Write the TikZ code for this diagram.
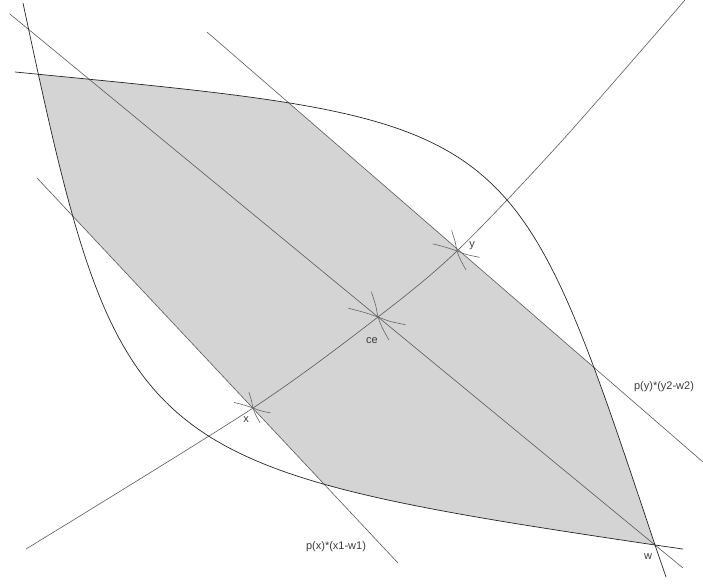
\documentclass[tikz,border=0pt]{standalone}
\usepackage{fontspec}
\setmainfont{Liberation Sans}
\usetikzlibrary{calc}
\definecolor{ink}{HTML}{3C3C3C}
\definecolor{setgray}{HTML}{D4D4D4}
\tikzset{
  curveA/.style  ={insert path={(15,72) .. controls (518,121) and (511,114) .. (w) -- (666,577)}},
  curveB/.style  ={insert path={(23,3) .. controls (119,453) and (130,467) .. (w) -- (683,549)}},
  indiff/.style  ={draw=black!85,line width=0.7pt},
  budget/.style  ={draw=black!65,line width=0.6pt},
  tickmark/.style={draw=black!60,line width=0.6pt},
  lbl/.style     ={inner sep=0pt,text=ink,font=\fontsize{11}{13}\selectfont}
}
\begin{document}
\begin{tikzpicture}[x=1pt,y=-1pt]
  \useasboundingbox (0,0) rectangle (703,585);
  \coordinate (w) at (655,545);
  \coordinate (ce) at (378,317);
  \coordinate (xpt) at (253,408);
  \coordinate (ypt) at (457,251);
  \coordinate (ytop) at (207,32);
  \coordinate (yend) at (703,462);
  \coordinate (xtop) at (37,178);
  \coordinate (xend) at (398,563);
  % shaded set: inside both curves, between the two price lines
  \begin{scope}
    \clip[curveA] -- (666,800) -- (-100,800) -- (-100,72) -- cycle;
    \clip[curveB] -- (800,549) -- (800,-100) -- (23,-100) -- cycle;
    \clip ($(ytop)!-1!(yend)$) -- ($(ytop)!2!(yend)$) -- ($(xtop)!3!(xend)$) -- ($(xtop)!-1!(xend)$) -- cycle;
    \fill[setgray] (0,0) rectangle (703,585);
  \end{scope}
  \draw[budget] ($(w)!2.33!(ce)$) -- ($(w)!-0.1!(ce)$);
  \draw[budget] (ytop) -- (yend);
  \draw[budget] (xtop) -- (xend);
  \draw[budget] plot[smooth] coordinates {(26,549) (xpt) (ce) (ypt) (560,143) (685,0)};
  \draw[indiff,curveA];
  \draw[indiff,curveB];
  \foreach \p/\s in {xpt/0.7, ce/1.1, ypt/0.9}{
    \begin{scope}[shift={(\p)},scale=\s]
      \draw[tickmark] plot[smooth] coordinates {(-6,-23) (-2,-10) (0,0) (4,10) (10,21)};
      \draw[tickmark] plot[smooth] coordinates {(-27,-8) (-12,-4) (0,0) (11,4) (25,7)};
    \end{scope}
  }
  \node[lbl] at ($(ypt)+(15,-5)$) {y};
  \node[lbl] at ($(ce)+(-6,24)$) {ce};
  \node[lbl] at ($(xpt)+(-7,12)$) {x};
  \node[lbl] at ($(w)+(-7,12)$) {w};
  \node[lbl] at (664,387) {p(y)*(y2-w2)};
  \node[lbl] at (336,547) {p(x)*(x1-w1)};
\end{tikzpicture}
\end{document}
